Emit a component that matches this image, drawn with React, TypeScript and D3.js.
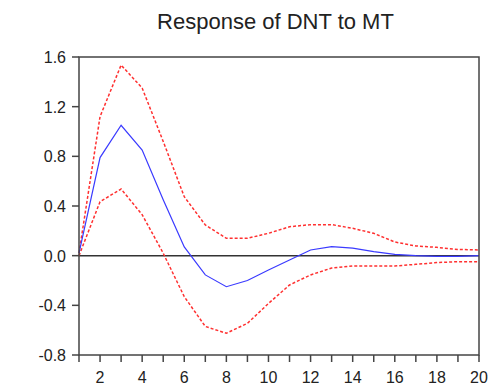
import React, { useEffect, useRef } from 'react';
import * as d3 from 'd3';

const periods = d3.range(1, 21);
const response = [0.02, 0.79, 1.05, 0.85, 0.45, 0.07, -0.155, -0.25, -0.2, -0.115, -0.035, 0.046, 0.073, 0.06, 0.032, 0.011, 0.0, -0.005, -0.005, 0.0];
const upper = [0.02, 1.12, 1.535, 1.35, 0.92, 0.475, 0.247, 0.14, 0.14, 0.18, 0.233, 0.25, 0.25, 0.22, 0.18, 0.11, 0.078, 0.067, 0.05, 0.046];
const lower = [0.0, 0.435, 0.537, 0.33, 0.02, -0.33, -0.57, -0.625, -0.545, -0.385, -0.236, -0.155, -0.1, -0.083, -0.083, -0.083, -0.07, -0.056, -0.048, -0.048];
const yTicks = [-0.8, -0.4, 0.0, 0.4, 0.8, 1.2, 1.6];
const xLabels = [2, 4, 6, 8, 10, 12, 14, 16, 18, 20];

const App: React.FC = () => {
  const ref = useRef<SVGSVGElement>(null);

  useEffect(() => {
    if (!ref.current) return;
    const svg = d3.select(ref.current);
    svg.selectAll('*').remove();

    const margin = { top: 57, left: 79, right: 17, bottom: 32 };
    const width = 496;
    const height = 387;
    const font = 'Liberation Sans, Arial, sans-serif';

    const x = d3.scaleLinear().domain([1, 20]).range([margin.left, width - margin.right]);
    const y = d3.scaleLinear().domain([-0.8, 1.6]).range([height - margin.bottom, margin.top]);

    svg.append('rect').attr('width', width).attr('height', height).attr('fill', '#fff');

    svg.append('text')
      .attr('x', 275.5)
      .attr('y', 29)
      .attr('text-anchor', 'middle')
      .attr('font-family', font)
      .attr('font-size', 22)
      .attr('fill', '#222')
      .text('Response of DNT to MT');

    // zero line
    svg.append('line')
      .attr('x1', x(1)).attr('x2', x(20))
      .attr('y1', y(0)).attr('y2', y(0))
      .attr('stroke', '#333').attr('stroke-width', 1.5);

    const line = d3.line<number>()
      .x((_, i) => x(periods[i]))
      .y(d => y(d));

    svg.append('path').datum(upper)
      .attr('d', line).attr('fill', 'none')
      .attr('stroke', '#ff3030').attr('stroke-width', 1.5)
      .attr('stroke-dasharray', '3,2');
    svg.append('path').datum(lower)
      .attr('d', line).attr('fill', 'none')
      .attr('stroke', '#ff3030').attr('stroke-width', 1.5)
      .attr('stroke-dasharray', '3,2');
    svg.append('path').datum(response)
      .attr('d', line).attr('fill', 'none')
      .attr('stroke', '#3a3aff').attr('stroke-width', 1.2);

    // frame
    svg.append('rect')
      .attr('x', x(1)).attr('y', y(1.6))
      .attr('width', x(20) - x(1)).attr('height', y(-0.8) - y(1.6))
      .attr('fill', 'none').attr('stroke', '#444').attr('stroke-width', 1.5);

    // y axis ticks
    const yAxis = svg.append('g').attr('font-family', font);
    yTicks.forEach(t => {
      yAxis.append('line')
        .attr('x1', x(1) - 7).attr('x2', x(1))
        .attr('y1', y(t)).attr('y2', y(t))
        .attr('stroke', '#444').attr('stroke-width', 1.5);
      yAxis.append('text')
        .attr('x', x(1) - 13).attr('y', y(t) + 6)
        .attr('text-anchor', 'end')
        .attr('font-size', 16).attr('fill', '#222')
        .text(t.toFixed(1));
    });

    // x axis ticks
    const xAxis = svg.append('g').attr('font-family', font);
    periods.forEach(p => {
      xAxis.append('line')
        .attr('x1', x(p)).attr('x2', x(p))
        .attr('y1', y(-0.8)).attr('y2', y(-0.8) + 7)
        .attr('stroke', '#444').attr('stroke-width', 1.5);
    });
    xLabels.forEach(p => {
      xAxis.append('text')
        .attr('x', x(p)).attr('y', y(-0.8) + 28)
        .attr('text-anchor', 'middle')
        .attr('font-size', 16).attr('fill', '#222')
        .text(String(p));
    });
  }, []);

  return <svg ref={ref} width={496} height={387} style={{ position: 'absolute', left: 0, top: 0 }} />;
};

export default App;
